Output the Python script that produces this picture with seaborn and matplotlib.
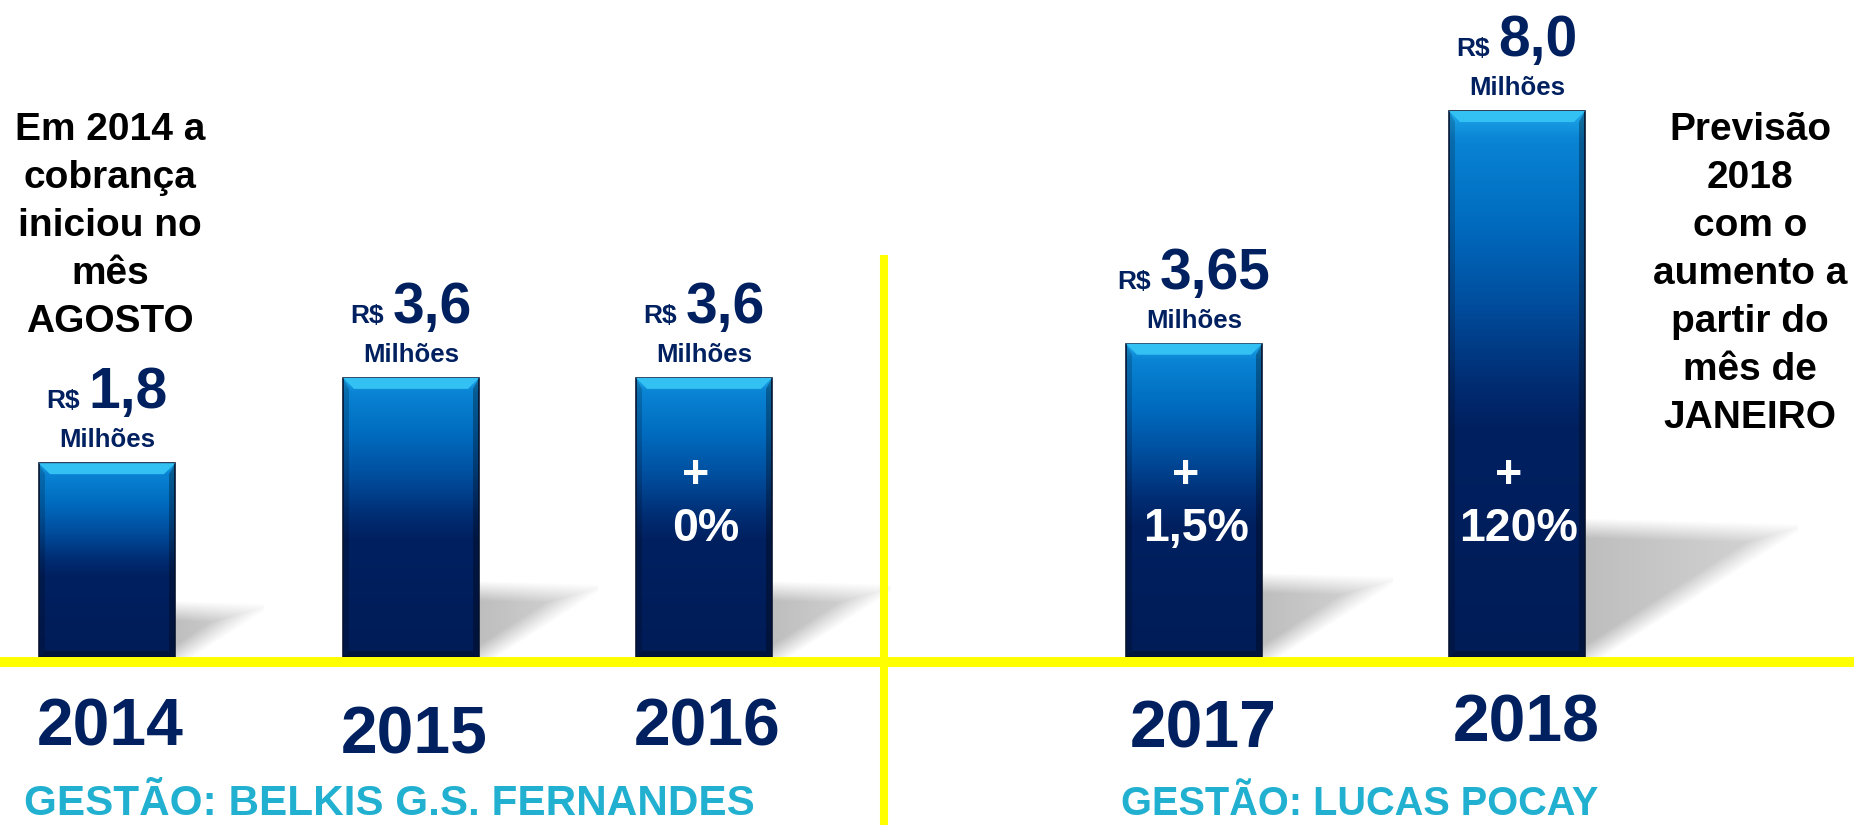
import matplotlib
matplotlib.use("Agg")
import matplotlib.pyplot as plt
import seaborn as sns
import numpy as np
from matplotlib.colors import LinearSegmentedColormap
from matplotlib.patches import Polygon

# -----------------------------
# data
# -----------------------------
anos = ["2014", "2015", "2016", "2017", "2018"]
valores = ["1,8", "3,6", "3,6", "3,65", "8,0"]
# the original bars are not drawn to scale, so these are the heights
# as they appear, normalised so that the 2018 bar = 8.0
altura = [2.84, 4.09, 4.09, 4.59, 8.0]
aumento = ["", "", "0%", "1,5%", "120%"]
nota_esq = ["Em 2014 a", "cobrança", "iniciou no", "mês", "AGOSTO"]
nota_dir = ["Previsão", "2018", "com o", "aumento a", "partir do", "mês de", "JANEIRO"]
gestao = ["GESTÃO: BELKIS G.S. FERNANDES", "GESTÃO: LUCAS POCAY"]

# -----------------------------
# layout (pixels on the 1854x825 canvas)
# -----------------------------
W, H = 1854, 825
BASE = 657          # baseline, px from top
PX = 546 / 8.0      # px per height unit
centro_x = [107, 411, 704, 1194, 1517]
ano_x = [110, 414, 707, 1203, 1526]
ano_base = [745, 754, 745, 748, 742]

NAVY = "#002060"
CYAN = "#22b0d0"
YELLOW = "#ffff00"


def yd(p):
    # px from top -> data y
    return (BASE - p) / PX


sns.set_style("white")
plt.rcParams["font.family"] = ["Liberation Sans", "DejaVu Sans"]
plt.rcParams["font.weight"] = "bold"

fig = plt.figure(figsize=(W / 100, H / 100), dpi=100)
ax = fig.add_axes([0, 0, 1, 1])

# -----------------------------
# bars
# -----------------------------
sns.barplot(x=centro_x, y=altura, native_scale=True, orient="x",
            width=136 / 293, color=NAVY, errorbar=None, ax=ax, zorder=3)
bars = list(ax.patches)

grad = LinearSegmentedColormap.from_list("barra", [
    (0, "#1fa8ea"), (0.05, "#0a84d4"), (0.2, "#006cc0"), (0.35, "#004e9e"),
    (0.5, "#002c72"), (0.58, "#002060"), (1, "#001c57")])
g = grad(np.linspace(0, 1, 256))[:, None, :]

for b in bars:
    x0, w, h = b.get_x(), b.get_width(), b.get_height()
    b.set_facecolor("none")
    b.set_edgecolor("#0b1838")
    b.set_linewidth(1.2)
    im = ax.imshow(g, extent=[x0, x0 + w, 0, h], origin="upper",
                   aspect="auto", zorder=2.9, interpolation="bilinear")
    im.set_clip_path(b)

    # bevels
    t, s = 11, 6
    ax.add_patch(Polygon([(x0, h), (x0 + w, h), (x0 + w - t, h - t / PX), (x0 + t, h - t / PX)],
                         fc="#33c0f2", ec="none", zorder=3.5))
    ax.add_patch(Polygon([(x0, 0), (x0, h), (x0 + s, h - t / PX), (x0 + s, s / PX)],
                         fc="black", alpha=0.18, ec="none", zorder=3.5))
    ax.add_patch(Polygon([(x0 + w, 0), (x0 + w, h), (x0 + w - s, h - t / PX), (x0 + w - s, s / PX)],
                         fc="black", alpha=0.3, ec="none", zorder=3.5))
    ax.add_patch(Polygon([(x0, 0), (x0 + w, 0), (x0 + w - s, s / PX), (x0 + s, s / PX)],
                         fc="black", alpha=0.3, ec="none", zorder=3.5))

    # soft shadow to the right of the bar
    xr = x0 + w
    hs = 0.235 * h * PX
    ws = 1.5 * hs
    blur = 10
    u, v = np.meshgrid(np.arange(0, ws + 2 * blur), np.arange(0, hs + 2 * blur))
    d_top = hs - 0.04 * hs * u / ws - v
    d_diag = (v - 0.96 * hs * u / ws) * ws / np.hypot(ws, 0.96 * hs)
    a = np.clip(0.5 + np.minimum(d_top, d_diag) / (2 * blur), 0, 1)
    a = a * (1 - 0.35 * u / ws).clip(0, 1) * 0.8
    rgba = np.zeros(a.shape + (4,))
    rgba[..., :3] = 0.68
    rgba[..., 3] = a
    ax.imshow(rgba, extent=[xr, xr + u.shape[1], 0, u.shape[0] / PX],
              origin="lower", aspect="auto", zorder=1, interpolation="bilinear")

# -----------------------------
# yellow lines
# -----------------------------
ax.axhline(yd(662), color=YELLOW, lw=7.2, zorder=5)
ax.plot([884, 884], [yd(255), yd(H)], color=YELLOW, lw=5.8, zorder=5,
        solid_capstyle="butt")

# -----------------------------
# labels
# -----------------------------
pares = []
for i, cx in enumerate(centro_x):
    h = altura[i]
    t_rs = ax.text(cx, h + 55 / PX, "R$", fontsize=19, color=NAVY,
                   ha="left", va="baseline", fontweight="bold")
    t_num = ax.text(cx, h + 55 / PX, valores[i], fontsize=41, color=NAVY,
                    ha="left", va="baseline", fontweight="bold")
    pares.append((cx, t_rs, t_num))
    ax.text(cx, h + 16 / PX, "Milhões", fontsize=18.5, color=NAVY,
            ha="center", va="baseline", fontweight="bold")

    if aumento[i]:
        ax.text(cx - 8, yd(488), "+", fontsize=33.5, color="white",
                ha="center", va="baseline", fontweight="bold", zorder=6)
        ax.text(cx + 2, yd(541), aumento[i], fontsize=33.5, color="white",
                ha="center", va="baseline", fontweight="bold", zorder=6)

    ax.text(ano_x[i], yd(ano_base[i]), anos[i], fontsize=47.5, color=NAVY,
            ha="center", va="baseline", fontweight="bold")

r = fig.canvas.get_renderer()
for cx, t_rs, t_num in pares:
    w1 = t_rs.get_window_extent(renderer=r).width
    w2 = t_num.get_window_extent(renderer=r).width
    start = cx - (w1 + 9 + w2) / 2
    t_rs.set_x(start)
    t_num.set_x(start + w1 + 9)

for j, linha in enumerate(nota_esq):
    ax.text(110, yd(140 + 48 * j), linha, fontsize=28, color="black",
            ha="center", va="baseline", fontweight="bold")
for j, linha in enumerate(nota_dir):
    ax.text(1750, yd(140 + 48 * j), linha, fontsize=28, color="black",
            ha="center", va="baseline", fontweight="bold")

ax.text(24, yd(815), gestao[0], fontsize=30.4, color=CYAN,
        ha="left", va="baseline", fontweight="bold")
ax.text(1121, yd(815), gestao[1], fontsize=28.6, color=CYAN,
        ha="left", va="baseline", fontweight="bold")

ax.set_xlim(0, W)
ax.set_ylim(yd(H), yd(0))
ax.axis("off")

fig.savefig("out.png", dpi=100)
plt.close(fig)
